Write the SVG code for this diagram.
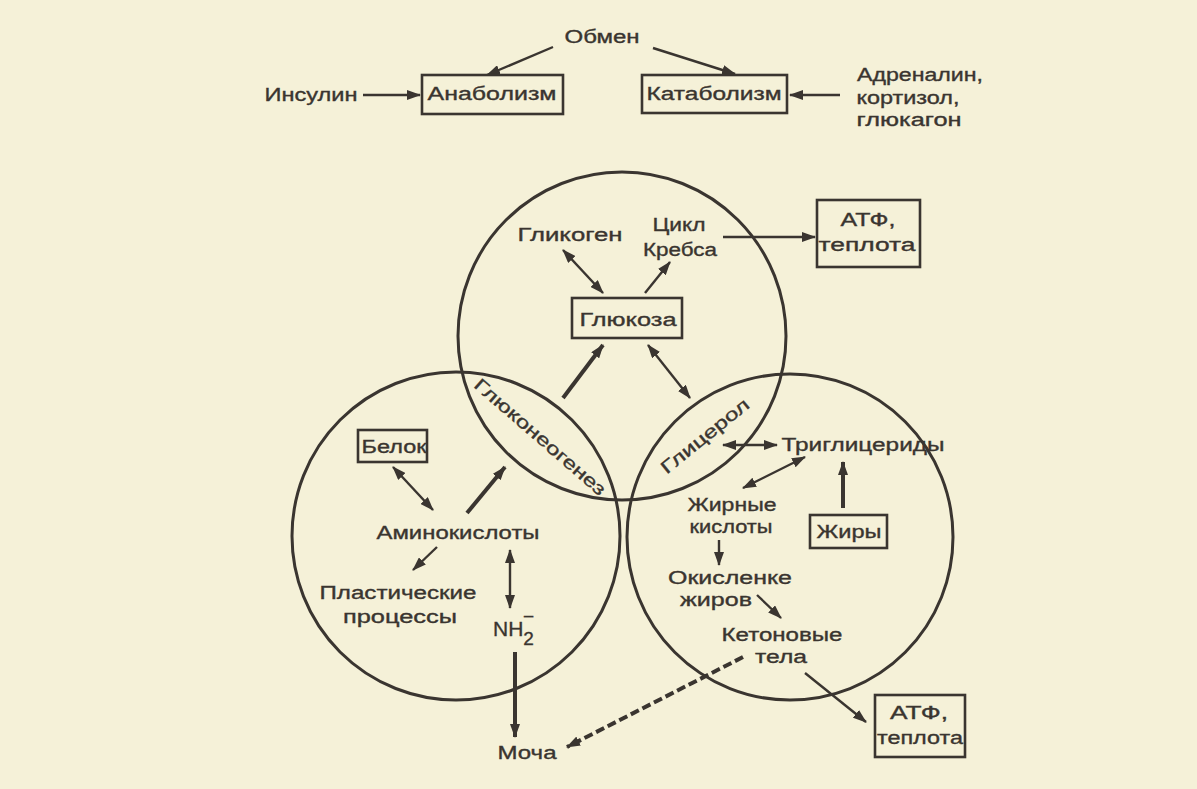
<svg xmlns="http://www.w3.org/2000/svg" width="1197" height="789" viewBox="0 0 1197 789">
<style>
.t{font-family:"Liberation Sans","DejaVu Sans",sans-serif;font-size:18px;fill:#3a3530;stroke:#3a3530;stroke-width:0.35;text-anchor:middle;}
.box{fill:none;stroke:#3a3530;stroke-width:2.6;}
.circ{fill:none;stroke:#3a3530;stroke-width:3;}
.c{fill:none;stroke:#3a3530;stroke-width:2.4;}
.k{fill:none;stroke:#3a3530;stroke-width:4;}
.d{fill:none;stroke:#3a3530;stroke-width:4;stroke-dasharray:9 4;}
</style>
<defs>
<marker id="ah" viewBox="0 0 14 10" refX="13" refY="5" markerWidth="14" markerHeight="10" markerUnits="userSpaceOnUse" orient="auto">
<path d="M0,0 L14,5 L0,10 Z" fill="#3a3530"/>
</marker>
<marker id="as" viewBox="0 0 14 10" refX="1" refY="5" markerWidth="14" markerHeight="10" markerUnits="userSpaceOnUse" orient="auto">
<path d="M14,0 L0,5 L14,10 Z" fill="#3a3530"/>
</marker>
</defs>
<rect width="1197" height="789" fill="#f5f1d8"/>

<g id="circles">
<circle class="circ" cx="622" cy="336" r="164"/>
<circle class="circ" cx="456" cy="536" r="164"/>
<circle class="circ" cx="790" cy="537" r="163"/>
</g>

<g id="connectors">
<line class="c" x1="553" y1="47" x2="487" y2="75" marker-end="url(#ah)"/>
<line class="c" x1="653" y1="48" x2="735" y2="74" marker-end="url(#ah)"/>
<line class="c" x1="363" y1="95" x2="420" y2="95" marker-end="url(#ah)"/>
<line class="c" x1="840" y1="95" x2="790" y2="95" marker-end="url(#ah)"/>
<line class="c" x1="723" y1="237" x2="815" y2="237" marker-end="url(#ah)"/>
<line class="c" x1="563" y1="250" x2="603" y2="293" marker-start="url(#as)" marker-end="url(#ah)"/>
<line class="c" x1="645" y1="293" x2="670" y2="262" marker-end="url(#ah)"/>
<line class="k" x1="563" y1="398" x2="603" y2="345" marker-end="url(#ah)"/>
<line class="c" x1="690" y1="398" x2="648" y2="345" marker-start="url(#as)" marker-end="url(#ah)"/>
<line class="c" x1="393" y1="467" x2="433" y2="510" marker-start="url(#as)" marker-end="url(#ah)"/>
<line class="k" x1="467" y1="513" x2="505" y2="467" marker-end="url(#ah)"/>
<line class="c" x1="437" y1="547" x2="413" y2="570" marker-end="url(#ah)"/>
<line class="c" x1="510" y1="550" x2="510" y2="608" marker-start="url(#as)" marker-end="url(#ah)"/>
<line class="k" x1="515" y1="652" x2="515" y2="737" marker-end="url(#ah)"/>
<line class="d" x1="743" y1="657" x2="567" y2="747" marker-end="url(#ah)"/>
<line class="c" x1="723" y1="445" x2="777" y2="445" marker-start="url(#as)" marker-end="url(#ah)"/>
<line class="c" x1="805" y1="457" x2="743" y2="488" marker-start="url(#as)" marker-end="url(#ah)"/>
<line class="k" x1="843" y1="508" x2="843" y2="462" marker-end="url(#ah)"/>
<line class="c" x1="719" y1="540" x2="719" y2="565" marker-end="url(#ah)"/>
<line class="c" x1="757" y1="595" x2="781" y2="618" marker-end="url(#ah)"/>
<line class="c" x1="805" y1="673" x2="866" y2="722" marker-end="url(#ah)"/>
</g>

<g id="obmen"><text class="t" x="602" y="43" textLength="75" lengthAdjust="spacingAndGlyphs">Обмен</text></g>
<g id="insulin"><text class="t" x="311" y="101" textLength="93" lengthAdjust="spacingAndGlyphs">Инсулин</text></g>
<g id="anabolism"><rect class="box" x="422" y="75" width="141" height="39"/><text class="t" x="492" y="100" textLength="129" lengthAdjust="spacingAndGlyphs">Анаболизм</text></g>
<g id="katabolism"><rect class="box" x="642" y="75" width="145" height="38"/><text class="t" x="714" y="100" textLength="135" lengthAdjust="spacingAndGlyphs">Катаболизм</text></g>
<g id="hormones">
<text class="t" x="920" y="81" textLength="126" lengthAdjust="spacingAndGlyphs">Адреналин,</text>
<text class="t" x="908" y="104" textLength="103" lengthAdjust="spacingAndGlyphs">кортизол,</text>
<text class="t" x="909" y="126" textLength="105" lengthAdjust="spacingAndGlyphs">глюкагон</text>
</g>
<g id="glycogen"><text class="t" x="570" y="241" textLength="105" lengthAdjust="spacingAndGlyphs">Гликоген</text></g>
<g id="krebs">
<text class="t" x="679" y="231" textLength="53" lengthAdjust="spacingAndGlyphs">Цикл</text>
<text class="t" x="680" y="256" textLength="74" lengthAdjust="spacingAndGlyphs">Кребса</text>
</g>
<g id="atp1"><rect class="box" x="817" y="200" width="103" height="67"/>
<text class="t" x="868" y="226" textLength="55" lengthAdjust="spacingAndGlyphs">АТФ,</text>
<text class="t" x="867" y="251" textLength="97" lengthAdjust="spacingAndGlyphs">теплота</text></g>
<g id="glucose"><rect class="box" x="572" y="298" width="110" height="40"/><text class="t" x="628" y="326" textLength="97" lengthAdjust="spacingAndGlyphs">Глюкоза</text></g>
<g id="gluconeogenesis"><text class="t" x="0" y="6" textLength="168" lengthAdjust="spacingAndGlyphs" transform="translate(540,437) rotate(41)">Глюконеогенез</text></g>
<g id="glycerol"><text class="t" x="0" y="6" textLength="108" lengthAdjust="spacingAndGlyphs" transform="translate(705,436) rotate(-39)">Глицерол</text></g>
<g id="protein"><rect class="box" x="358" y="430" width="69" height="32"/><text class="t" x="394" y="453" textLength="65" lengthAdjust="spacingAndGlyphs">Белок</text></g>
<g id="aminoacids"><text class="t" x="458" y="539" textLength="163" lengthAdjust="spacingAndGlyphs">Аминокислоты</text></g>
<g id="plastic">
<text class="t" x="398" y="599" textLength="157" lengthAdjust="spacingAndGlyphs">Пластические</text>
<text class="t" x="400" y="623" textLength="114" lengthAdjust="spacingAndGlyphs">процессы</text>
</g>
<g id="nh2"><text class="t" x="493" y="636" style="text-anchor:start;font-size:21px">NH<tspan font-size="19" dy="9">2</tspan><tspan font-size="19" dx="-11" dy="-22">−</tspan></text></g>
<g id="urine"><text class="t" x="527" y="759" textLength="59" lengthAdjust="spacingAndGlyphs">Моча</text></g>
<g id="triglycerides"><text class="t" x="863" y="451" textLength="163" lengthAdjust="spacingAndGlyphs">Триглицериды</text></g>
<g id="fattyacids">
<text class="t" x="732" y="511" textLength="89" lengthAdjust="spacingAndGlyphs">Жирные</text>
<text class="t" x="731" y="533" textLength="83" lengthAdjust="spacingAndGlyphs">кислоты</text>
</g>
<g id="fats"><rect class="box" x="810" y="515" width="77" height="33"/><text class="t" x="849" y="538" textLength="65" lengthAdjust="spacingAndGlyphs">Жиры</text></g>
<g id="oxidation">
<text class="t" x="730" y="584" textLength="124" lengthAdjust="spacingAndGlyphs">Окисленке</text>
<text class="t" x="716" y="606" textLength="72" lengthAdjust="spacingAndGlyphs">жиров</text>
</g>
<g id="ketones">
<text class="t" x="782" y="641" textLength="121" lengthAdjust="spacingAndGlyphs">Кетоновые</text>
<text class="t" x="781" y="663" textLength="52" lengthAdjust="spacingAndGlyphs">тела</text>
</g>
<g id="atp2"><rect class="box" x="875" y="695" width="90" height="62"/>
<text class="t" x="919" y="719" textLength="58" lengthAdjust="spacingAndGlyphs">АТФ,</text>
<text class="t" x="920" y="744" textLength="86" lengthAdjust="spacingAndGlyphs">теплота</text></g>
</svg>
